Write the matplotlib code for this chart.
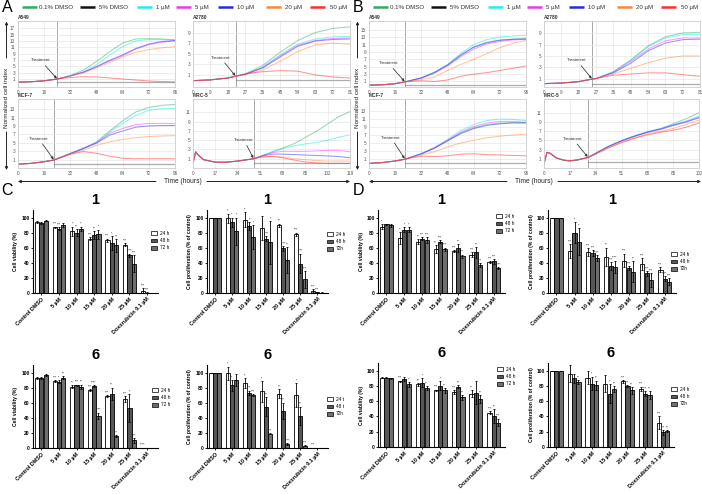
import numpy as np
import matplotlib
matplotlib.use('Agg')
import matplotlib.pyplot as plt
from matplotlib.patches import Patch

plt.rcParams['font.family'] = ['Liberation Sans', 'DejaVu Sans']
plt.rcParams['axes.linewidth'] = 0.6

# ------------------------------------------------------------------
# Real-time cell index data (panels A and B)
# ------------------------------------------------------------------
SERIES = ['0.1% DMSO', '5% DMSO', '1 µM', '5 µM', '10 µM', '20 µM', '50 µM']

# --- A / A549 ---
A_A549_t = [0, 8, 16, 24, 32, 40, 48, 56, 64, 72, 80, 88, 96]
A_A549_pre = [0.0, 0.15, 0.45, 1.0]
A_A549_dmso01 = [2.1, 3.8, 6.5, 9.6, 12.3, 13.6, 13.7, 13.6, 13.3]
A_A549_dmso5 = [0.05, 0.05, 0.05, 0.05, 0.05, 0.05, 0.05, 0.05, 0.05, 0.05]
A_A549_c1 = [2.0, 3.3, 5.5, 8.5, 11.2, 13.0, 13.4, 13.4, 13.3]
A_A549_c5 = [2.0, 3.2, 4.8, 6.7, 8.3, 10.4, 11.8, 12.6, 13.0]
A_A549_c10 = [2.0, 3.1, 4.9, 6.9, 8.6, 10.6, 12.0, 12.8, 13.1]
A_A549_c20 = [1.9, 2.9, 4.5, 6.3, 7.9, 9.4, 10.3, 10.8, 11.2]
A_A549_c50 = [1.5, 1.75, 1.65, 1.35, 1.0, 0.7, 0.4, 0.2, 0.1]

# --- A / A2780 ---
A_A2780_t = [0, 9, 18, 22, 27, 36, 45, 54, 63, 72, 81]
A_A2780_pre = [-0.1, 0.05, 0.4, 0.75]
A_A2780_dmso01 = [1.2, 2.8, 5.3, 7.5, 9.0, 9.8, 10.1]
A_A2780_dmso5 = [0.0, 0.0, 0.0, 0.0, 0.0, 0.0, 0.0, 0.0]
A_A2780_c1 = [1.1, 2.5, 4.8, 6.8, 7.8, 8.2, 8.3]
A_A2780_c5 = [1.1, 2.4, 4.6, 6.6, 7.5, 7.9, 8.0]
A_A2780_c10 = [1.1, 2.3, 4.4, 6.4, 7.4, 7.7, 7.8]
A_A2780_c20 = [1.0, 1.9, 3.6, 5.4, 6.7, 7.0, 6.8]
A_A2780_c50 = [1.2, 1.6, 1.8, 1.7, 1.0, 0.6, 0.4]

# --- A / MCF-7 ---
A_MCF7_t = [0, 8, 16, 22, 32, 40, 48, 56, 64, 72, 80, 88, 96]
A_MCF7_pre = [-0.1, 0.1, 0.5, 0.9]
A_MCF7_dmso01 = [2.4, 3.6, 5.2, 7.8, 10.2, 12.3, 13.4, 13.9, 14.1]
A_MCF7_dmso5 = [-0.1, -0.1, -0.1, -0.1, -0.1, -0.1, -0.1, -0.1, -0.1, -0.1]
A_MCF7_c1 = [2.4, 3.6, 5.1, 7.5, 9.6, 11.5, 12.7, 13.1, 13.2]
A_MCF7_c5 = [2.5, 3.8, 5.0, 7.2, 8.4, 9.3, 9.6, 9.6, 9.6]
A_MCF7_c10 = [2.4, 3.6, 4.9, 6.8, 7.8, 8.7, 9.0, 9.1, 9.1]
A_MCF7_c20 = [2.3, 3.2, 4.4, 5.2, 5.8, 6.2, 6.5, 6.6, 6.7]
A_MCF7_c50 = [2.3, 2.9, 2.5, 1.8, 1.3, 1.2, 1.2, 1.2, 1.2]

# --- A / MRC-5 ---
A_MRC5_t = [0, 2, 4, 8, 17, 25, 34, 40, 46, 51, 60, 68, 77, 85, 94, 102, 110, 119]
A_MRC5_pre = [0.0, 2.5, 1.8, 0.8, 0.25, 0.25, 0.5, 0.75, 1.0]
A_MRC5_dmso01 = [1.5, 2.5, 3.3, 4.3, 5.6, 7.0, 8.5, 10.0, 11.2]
A_MRC5_dmso5 = [0.1, 0.1, 0.1, 0.1, 0.1, 0.1, 0.1, 0.1, 0.1, 0.1]
A_MRC5_c1 = [1.5, 2.4, 3.2, 3.8, 4.2, 4.5, 5.0, 5.6, 6.2]
A_MRC5_c5 = [1.5, 2.3, 2.6, 2.6, 2.6, 2.7, 2.8, 2.8, 2.5]
A_MRC5_c10 = [1.5, 2.0, 2.0, 1.9, 1.8, 1.7, 1.6, 1.5, 1.2]
A_MRC5_c20 = [1.4, 1.6, 1.4, 1.0, 0.8, 0.6, 0.5, 0.5, 0.5]
A_MRC5_c50 = [1.3, 1.5, 1.2, 0.7, 0.3, 0.1, 0.0, 0.0, 0.0]

# --- B / A549 ---
B_A549_t = [0, 8, 16, 22, 32, 40, 48, 56, 64, 72, 80, 88, 96]
B_A549_pre = [0.0, 0.1, 0.4, 0.9]
B_A549_dmso01 = [1.9, 3.3, 5.4, 8.2, 10.4, 11.7, 12.3, 12.5, 12.6]
B_A549_dmso5 = [0.0, 0.0, 0.0, 0.0, 0.0, 0.0, 0.0, 0.0, 0.0, 0.0]
B_A549_c1 = [2.0, 3.5, 5.6, 8.6, 11.0, 12.4, 13.1, 13.4, 13.6]
B_A549_c5 = [1.9, 3.3, 5.2, 7.7, 9.8, 11.2, 11.9, 12.3, 12.5]
B_A549_c10 = [2.0, 3.5, 5.5, 8.1, 10.3, 11.5, 12.2, 12.5, 12.6]
B_A549_c20 = [1.5, 2.2, 4.0, 5.6, 7.0, 8.6, 10.2, 11.4, 12.2]
B_A549_c50 = [1.2, 1.0, 1.4, 2.4, 3.0, 3.4, 4.0, 4.6, 5.2]

# --- B / A2780 ---
B_A2780_t = [0, 9, 18, 25, 27, 36, 45, 54, 63, 72, 81]
B_A2780_pre = [0.1, 0.2, 0.45, 0.9]
B_A2780_dmso01 = [1.0, 2.2, 4.3, 6.8, 8.4, 9.1, 9.2]
B_A2780_dmso5 = [0.1, 0.1, 0.1, 0.1, 0.1, 0.1, 0.1, 0.1]
B_A2780_c1 = [1.0, 2.2, 4.2, 6.6, 8.2, 8.8, 8.8]
B_A2780_c5 = [1.0, 2.1, 4.0, 6.2, 7.7, 8.2, 8.2]
B_A2780_c10 = [1.0, 2.0, 3.7, 5.9, 7.3, 7.9, 8.0]
B_A2780_c20 = [1.0, 1.8, 2.8, 3.8, 4.6, 5.0, 5.0]
B_A2780_c50 = [1.0, 1.6, 1.8, 2.0, 2.0, 1.7, 1.4]

# --- B / MCF-7 ---
B_MCF7_t = [0, 8, 16, 22, 32, 40, 48, 56, 64, 72, 80, 88, 96]
B_MCF7_pre = [-0.1, 0.1, 0.5, 0.95]
B_MCF7_dmso01 = [2.3, 3.7, 5.6, 7.5, 8.8, 9.6, 10.0, 10.1, 10.1]
B_MCF7_dmso5 = [-0.1, -0.1, -0.1, -0.1, -0.1, -0.1, -0.1, -0.1, -0.1, -0.1]
B_MCF7_c1 = [2.4, 3.9, 5.9, 8.1, 9.6, 10.6, 11.0, 10.9, 10.6]
B_MCF7_c5 = [2.3, 3.8, 5.7, 7.7, 9.1, 10.0, 10.4, 10.4, 10.2]
B_MCF7_c10 = [2.3, 3.7, 5.5, 7.3, 8.6, 9.4, 9.8, 10.0, 10.0]
B_MCF7_c20 = [2.0, 2.8, 4.0, 5.0, 5.7, 6.3, 6.7, 7.0, 7.2]
B_MCF7_c50 = [1.7, 1.6, 1.8, 2.2, 2.3, 2.1, 2.0, 1.9, 1.8]

# --- B / MRC-5 ---
B_MRC5_t = [0, 2, 4, 8, 13, 17, 22, 29, 34, 42, 51, 60, 68, 77, 85, 94, 102]
B_MRC5_pre = [0.0, 2.4, 2.2, 1.2, 0.7, 0.55, 0.75, 1.3]
B_MRC5_dmso01 = [2.2, 3.6, 4.9, 5.9, 6.8, 7.6, 8.6, 9.8, 11.0]
B_MRC5_dmso5 = [0.3, 0.3, 0.3, 0.3, 0.3, 0.3, 0.3, 0.3, 0.3, 0.3]
B_MRC5_c1 = [2.2, 3.7, 5.0, 6.1, 6.9, 7.6, 8.4, 9.3, 10.3]
B_MRC5_c5 = [2.2, 3.6, 4.9, 5.9, 6.7, 7.4, 8.2, 9.0, 9.9]
B_MRC5_c10 = [2.2, 3.6, 4.9, 6.0, 6.8, 7.5, 8.3, 9.1, 10.0]
B_MRC5_c20 = [2.1, 3.4, 4.6, 5.6, 6.4, 7.0, 7.6, 8.5, 9.4]
B_MRC5_c50 = [2.0, 3.3, 4.5, 5.5, 6.2, 6.8, 7.2, 7.9, 8.8]

# tick labels
T96_ticks = [0, 16, 32, 48, 64, 80, 96]
T96_labels = ['0', '16', '32', '48', '64', '72', '96']
T81_ticks = [0, 9, 18, 27, 36, 45, 54, 63, 72, 81]
T119_ticks = [0, 17, 34, 51, 68, 85, 102, 119]
T102_ticks = [0, 17, 34, 51, 68, 85, 102]

# ------------------------------------------------------------------
# Viability / proliferation bar data (panels C and D)
# ------------------------------------------------------------------
GROUPS = ['Control DMSO', '5 µM', '10 µM', '15 µM', '20 µM', '25 µM', 'Doxorubicin 0.1 µM']

C1v_24 = [94, 87, 82, 72, 70, 64, 2]
C1v_48 = [93, 85, 80, 77, 66, 50, 0.5]
C1v_72 = [96, 90, 85, 78, 63, 39, 0.3]
C1v_24e = [1, 1, 6, 2, 2, 2, 4]
C1v_48e = [1, 2, 5, 5, 9, 2, 0.5]
C1v_72e = [1, 3, 3, 6, 8, 11, 0.3]
C1v_24s = ['', '***', '*', '***', '***', '***', '***']
C1v_48s = ['', '***', '**', '**', '*', '****', '***']
C1v_72s = ['', '', '*', '*', '**', '***', '']

C1p_24 = [100, 99, 97, 86, 90, 78, 3]
C1p_48 = [100, 94, 89, 72, 59, 39, 1]
C1p_72 = [100, 82, 74, 67, 44, 18, 0.5]
C1p_24e = [0, 6, 10, 16, 2, 2, 2]
C1p_48e = [0, 6, 5, 3, 3, 13, 0.5]
C1p_72e = [0, 18, 16, 28, 17, 11, 0.3]
C1p_24s = ['', '*', '*', '', '**', '***', '***']
C1p_48s = ['', '*', '*', '****', '****', '****', '***']
C1p_72s = ['', '*', '*', '*', '**', '***', '']

C6v_24 = [93, 89, 81, 77, 69, 65, 0.3]
C6v_48 = [93, 88, 83, 82, 72, 53, 0.3]
C6v_72 = [97, 93, 81, 43, 16, 10, 0.3]
C6v_24e = [1, 1, 2, 1, 1, 4, 0]
C6v_48e = [1, 2, 1, 1, 8, 18, 0]
C6v_72e = [1, 2, 3, 4, 1, 3, 0]
C6v_24s = ['', '***', '**', '***', '***', '***', '****']
C6v_48s = ['', '*', '***', '****', '**', '*', '']
C6v_72s = ['', '**', '**', '****', '***', '****', '']

C6p_24 = [100, 99, 86, 75, 72, 70, 0.5]
C6p_48 = [100, 83, 73, 55, 49, 43, 0.3]
C6p_72 = [100, 90, 70, 19, 5, 3, 0.3]
C6p_24e = [0, 9, 7, 14, 6, 16, 0]
C6p_48e = [0, 7, 3, 12, 11, 12, 0]
C6p_72e = [0, 8, 1, 1, 1, 1, 0]
C6p_24s = ['', '*', '*', '*', '**', '*', '***']
C6p_48s = ['', '*', '***', '**', '**', '**', '']
C6p_72s = ['', '', '***', '***', '****', '***', '']

D1v_24 = [88, 73, 68, 58, 56, 51, 41]
D1v_48 = [91, 84, 72, 68, 60, 54, 42]
D1v_72 = [90, 84, 70, 58, 49, 37, 33]
D1v_24e = [3, 8, 3, 5, 1, 3, 1]
D1v_48e = [1, 3, 2, 2, 5, 7, 3]
D1v_72e = [2, 3, 4, 2, 2, 3, 1]
D1v_24s = ['*', '*', '**', '**', '***', '***', '***']
D1v_48s = ['', '*', '***', '***', '**', '**', '***']
D1v_72s = ['', '*', '***', '***', '***', '***', '****']

D1p_24 = [100, 56, 54, 48, 43, 38, 31]
D1p_48 = [100, 80, 53, 36, 33, 26, 19]
D1p_72 = [100, 68, 46, 35, 28, 17, 15]
D1p_24e = [0, 9, 5, 12, 9, 8, 3]
D1p_48e = [0, 14, 4, 5, 3, 3, 3]
D1p_72e = [0, 18, 4, 8, 14, 9, 5]
D1p_24s = ['', '***', '***', '**', '***', '***', '***']
D1p_48s = ['', '*', '***', '***', '***', '***', '****']
D1p_72s = ['', '*', '****', '****', '**', '***', '***']

D6v_24 = [91, 86, 82, 74, 72, 70, 45]
D6v_48 = [91, 89, 84, 80, 79, 71, 41]
D6v_72 = [90, 82, 77, 74, 65, 63, 32]
D6v_24e = [1, 1, 2, 1, 2, 4, 2]
D6v_48e = [1, 3, 6, 6, 2, 15, 9]
D6v_72e = [1, 3, 3, 3, 3, 5, 5]
D6v_24s = ['', '***', '**', '***', '***', '**', '***']
D6v_48s = ['', '', '*', '*', '**', '', '**']
D6v_72s = ['', '*', '**', '**', '**', '**', '***']

D6p_24 = [100, 96, 91, 83, 86, 76, 32]
D6p_48 = [100, 90, 83, 70, 80, 70, 19]
D6p_72 = [100, 85, 81, 76, 74, 68, 21]
D6p_24e = [0, 11, 9, 11, 2, 3, 8]
D6p_48e = [0, 6, 9, 12, 1, 3, 3]
D6p_72e = [0, 3, 6, 4, 4, 5, 1]
D6p_24s = ['', '', '', '', '***', '***', '***']
D6p_48s = ['', '', '*', '*', '***', '***', '***']
D6p_72s = ['', '**', '**', '**', '**', '**', '**']

# ------------------------------------------------------------------
W, H = 702, 494
fig = plt.figure(figsize=(W / 100, H / 100), dpi=100)


def px_axes(l, t, w, h):
    return fig.add_axes([l / W, 1 - (t + h) / H, w / W, h / H])


LINE_COLORS = {'0.1% DMSO': '#2fb06a', '5% DMSO': '#777777', '1 µM': '#19e6e6',
               '5 µM': '#ff33ff', '10 µM': '#2b2bff', '20 µM': '#ff8a3d', '50 µM': '#ff2a2a'}
LEG_COLORS = {'0.1% DMSO': '#35a76a', '5% DMSO': '#111111', '1 µM': '#2ce9ef',
              '5 µM': '#ea3ae8', '10 µM': '#2a2ad6', '20 µM': '#f28b3c', '50 µM': '#f23232'}


def rtca(rect, name, t, pre, dmso01, dmso5, c1, c5, c10, c20, c50, treat,
         ylim, yticks, xticks, xlabels, ann):
    ax = px_axes(*rect)
    n = len(pre)
    order = [('0.1% DMSO', dmso01), ('1 µM', c1), ('5 µM', c5), ('10 µM', c10),
             ('20 µM', c20), ('50 µM', c50)]
    for lab, post in order:
        ax.plot(t, list(pre) + list(post), color=LINE_COLORS[lab], lw=0.75,
                alpha=0.5, solid_joinstyle='round')
    ax.plot(t[n - 1:], dmso5, color=LINE_COLORS['5% DMSO'], lw=0.9, alpha=0.6)
    ax.axvline(treat, color='#a8a8a8', lw=0.7, zorder=0.5)
    ax.set_xlim(t[0], t[-1])
    ax.set_ylim(*ylim)
    ax.set_yticks(yticks)
    ax.set_xticks(xticks)
    ax.set_xticklabels(xlabels)
    ax.grid(True, color='#e6e6e6', lw=0.5)
    ax.set_axisbelow(True)
    for s in ax.spines.values():
        s.set_color('#cccccc')
        s.set_linewidth(0.6)
    ax.tick_params(length=0, labelsize=3.3, colors='#555555', pad=2)
    ax.text(0.0, 1.015, name, transform=ax.transAxes, fontsize=3.5,
            fontweight='bold', va='bottom', ha='left', color='#333333')
    ax.annotate('Treatment', xy=(treat, pre[-1]), xytext=ann,
                textcoords='offset points', fontsize=3.2, ha='center',
                va='bottom', color='#333333',
                arrowprops=dict(arrowstyle='-|>', color='#333333', lw=0.55,
                                mutation_scale=3.5, shrinkA=0.5, shrinkB=0.5))
    return ax


ov = fig.add_axes([0, 0, 1, 1], zorder=10)
ov.set_xlim(0, W)
ov.set_ylim(H, 0)
ov.axis('off')
ov.patch.set_alpha(0)

for dx, letter, data in [
    (0, 'A', [
        ((18, 20.5, 157, 66.5), 'A549', A_A549_t, A_A549_pre, A_A549_dmso01, A_A549_dmso5,
         A_A549_c1, A_A549_c5, A_A549_c10, A_A549_c20, A_A549_c50, 24,
         (-1.5, 19.4), range(1, 18, 2), T96_ticks, T96_labels, (-12, 12)),
        ((193, 20.5, 157, 66.5), 'A2780', A_A2780_t, A_A2780_pre, A_A2780_dmso01, A_A2780_dmso5,
         A_A2780_c1, A_A2780_c5, A_A2780_c10, A_A2780_c20, A_A2780_c50, 22,
         (-1.3, 11.3), range(1, 10, 2), T81_ticks, [str(v) for v in T81_ticks], (-11, 12)),
        ((18, 99, 157, 69), 'MCF-7', A_MCF7_t, A_MCF7_pre, A_MCF7_dmso01, A_MCF7_dmso5,
         A_MCF7_c1, A_MCF7_c5, A_MCF7_c10, A_MCF7_c20, A_MCF7_c50, 22,
         (-1.0, 15.4), range(1, 14, 2), T96_ticks, T96_labels, (-11, 14)),
        ((193, 99, 157, 69), 'MRC-5', A_MRC5_t, A_MRC5_pre, A_MRC5_dmso01, A_MRC5_dmso5,
         A_MRC5_c1, A_MRC5_c5, A_MRC5_c10, A_MRC5_c20, A_MRC5_c50, 46,
         (-1.0, 13.9), range(1, 12, 2), T119_ticks, [str(v) for v in T119_ticks], (-7, 12)),
    ]),
    (351, 'B', [
        ((369, 20.5, 157, 66.5), 'A549', B_A549_t, B_A549_pre, B_A549_dmso01, B_A549_dmso5,
         B_A549_c1, B_A549_c5, B_A549_c10, B_A549_c20, B_A549_c50, 22,
         (-0.5, 17.6), range(1, 16, 2), T96_ticks, T96_labels, (-12, 12)),
        ((544, 20.5, 156, 66.5), 'A2780', B_A2780_t, B_A2780_pre, B_A2780_dmso01, B_A2780_dmso5,
         B_A2780_c1, B_A2780_c5, B_A2780_c10, B_A2780_c20, B_A2780_c50, 25,
         (-0.5, 11.3), range(1, 10, 2), T81_ticks, [str(v) for v in T81_ticks], (-11, 12)),
        ((369, 99, 157, 69), 'MCF-7', B_MCF7_t, B_MCF7_pre, B_MCF7_dmso01, B_MCF7_dmso5,
         B_MCF7_c1, B_MCF7_c5, B_MCF7_c10, B_MCF7_c20, B_MCF7_c50, 22,
         (-1.25, 16.0), range(1, 14, 2), T96_ticks, T96_labels, (-10, 14)),
        ((544, 99, 155, 69), 'MRC-5', B_MRC5_t, B_MRC5_pre, B_MRC5_dmso01, B_MRC5_dmso5,
         B_MRC5_c1, B_MRC5_c5, B_MRC5_c10, B_MRC5_c20, B_MRC5_c50, 29,
         (-1.0, 14.0), range(1, 12, 2), T102_ticks, [str(v) for v in T102_ticks], (-11, 12)),
    ])]:
    for args in data:
        rtca(*args)
    # panel letter
    ov.text(dx + 1.5, 7.5, letter, fontsize=11.5, va='center', ha='left')
    # legend row
    lx = [22, 80, 137, 176, 218, 266, 310]
    tx = [39, 99, 156, 195, 237, 285, 330]
    for k, lab in enumerate(SERIES):
        ov.plot([dx + lx[k], dx + lx[k] + 15], [7.3, 7.3], color=LEG_COLORS[lab], lw=1.8,
                solid_capstyle='butt')
        ov.text(dx + tx[k], 7.3, lab, fontsize=4.4, va='center', ha='left', color='#333333')
    # y label with arrows
    ov.text(dx + 6.5, 98, 'Normalized cell index', rotation=90, fontsize=4.6,
            va='center', ha='center', color='#222222')
    ov.annotate('', xy=(dx + 6.5, 21.5), xytext=(dx + 6.5, 58),
                arrowprops=dict(arrowstyle='-|>', lw=0.7, color='#222222', mutation_scale=4,
                                shrinkA=0, shrinkB=0))
    ov.annotate('', xy=(dx + 6.5, 170), xytext=(dx + 6.5, 132),
                arrowprops=dict(arrowstyle='-|>', lw=0.7, color='#222222', mutation_scale=4,
                                shrinkA=0, shrinkB=0))
    # time label with arrows
    ov.text(dx + 183, 181.5, 'Time (hours)', fontsize=4.8, va='center', ha='center',
            color='#222222')
    ov.annotate('', xy=(dx + 18, 181.5), xytext=(dx + 156, 181.5),
                arrowprops=dict(arrowstyle='-|>', lw=0.7, color='#222222', mutation_scale=4,
                                shrinkA=0, shrinkB=0))
    ov.annotate('', xy=(dx + 350, 181.5), xytext=(dx + 207, 181.5),
                arrowprops=dict(arrowstyle='-|>', lw=0.7, color='#222222', mutation_scale=4,
                                shrinkA=0, shrinkB=0))

# ------------------------------------------------------------------
BAR_COLORS = ['#ffffff', '#575757', '#6f6f6f']
OFFS = [-0.245, 0.0, 0.245]


def bars(rect, title, ylabel, m24, m48, m72, e24, e48, e72, s24, s48, s72,
         leg_xy, leg_labels):
    ax = px_axes(*rect)
    x = np.arange(len(GROUPS))
    handles = []
    for k, (m, e, s) in enumerate([(m24, e24, s24), (m48, e48, s48), (m72, e72, s72)]):
        ax.bar(x + OFFS[k], m, width=0.235, color=BAR_COLORS[k], edgecolor='black',
               linewidth=0.6, yerr=e,
               error_kw=dict(elinewidth=0.6, capsize=1.0, capthick=0.6, ecolor='black'))
        for xi, mi, ei, si in zip(x, m, e, s):
            if si:
                ax.text(xi + OFFS[k], mi + ei + 0.8, si, fontsize=2.4, ha='center',
                        va='bottom', color='#222222')
        handles.append(Patch(facecolor=BAR_COLORS[k], edgecolor='black', linewidth=0.5))
    ax.set_xlim(-0.47, 6.62)
    ax.set_ylim(0, 110)
    ax.set_yticks([0, 20, 40, 60, 80, 100])
    ax.set_xticks(x)
    ax.set_xticklabels(GROUPS, rotation=45, ha='right', rotation_mode='anchor',
                       fontsize=3.9, fontweight='bold')
    for lab in ax.get_yticklabels():
        lab.set_fontweight('bold')
    ax.tick_params(axis='y', labelsize=3.5, length=1.5, width=0.6, pad=1)
    ax.tick_params(axis='x', length=1.5, width=0.6, pad=1)
    ax.spines['top'].set_visible(False)
    ax.spines['right'].set_visible(False)
    ax.spines['left'].set_linewidth(0.8)
    ax.spines['bottom'].set_linewidth(0.8)
    ax.set_ylabel(ylabel, fontsize=3.6, fontweight='bold', labelpad=2)
    l, t, w, h = rect
    ov.text(l + w / 2, t - 10, title, fontsize=10.5, fontweight='bold', ha='center',
            va='center')
    ax.legend(handles, leg_labels, loc='upper left',
              bbox_to_anchor=(leg_xy[0] / W, 1 - leg_xy[1] / H),
              bbox_transform=fig.transFigure, frameon=False, fontsize=3.4,
              handlelength=1.3, handleheight=0.9, labelspacing=0.45, borderpad=0,
              borderaxespad=0, handletextpad=0.6)
    return ax


VIA = 'Cell viability (%)'
PRO = 'Cell proliferation (% of control)'
LB = ['24 h', '48 h', '72 h']
LB2 = ['24 h', '48 h', '72h']

bars((33, 210, 125, 83), '1', VIA, C1v_24, C1v_48, C1v_72, C1v_24e, C1v_48e, C1v_72e,
     C1v_24s, C1v_48s, C1v_72s, (151, 231), LB)
bars((207, 210, 121, 83), '1', PRO, C1p_24, C1p_48, C1p_72, C1p_24e, C1p_48e, C1p_72e,
     C1p_24s, C1p_48s, C1p_72s, (327, 232), LB2)
bars((33, 365, 125, 83), '6', VIA, C6v_24, C6v_48, C6v_72, C6v_24e, C6v_48e, C6v_72e,
     C6v_24s, C6v_48s, C6v_72s, (152, 388), LB)
bars((207, 365, 121, 83), '6', PRO, C6p_24, C6p_48, C6p_72, C6p_24e, C6p_48e, C6p_72e,
     C6p_24s, C6p_48s, C6p_72s, (327, 397), ['24 t', '48 t', '72h'])
bars((378, 210, 127, 83), '1', VIA, D1v_24, D1v_48, D1v_72, D1v_24e, D1v_48e, D1v_72e,
     D1v_24s, D1v_48s, D1v_72s, (496, 214), LB)
bars((548, 210, 128, 83), '1', PRO, D1p_24, D1p_48, D1p_72, D1p_24e, D1p_48e, D1p_72e,
     D1p_24s, D1p_48s, D1p_72s, (671, 252), LB2)
bars((378, 363, 127, 84), '6', VIA, D6v_24, D6v_48, D6v_72, D6v_24e, D6v_48e, D6v_72e,
     D6v_24s, D6v_48s, D6v_72s, (497, 367), LB)
bars((548, 363, 126, 84), '6', PRO, D6p_24, D6p_48, D6p_72, D6p_24e, D6p_48e, D6p_72e,
     D6p_24s, D6p_48s, D6p_72s, (671, 387), LB2)

ov.text(1.5, 190, 'C', fontsize=11.5, va='center', ha='left')
ov.text(352.5, 190, 'D', fontsize=11.5, va='center', ha='left')

fig.savefig('out.png', dpi=100)
